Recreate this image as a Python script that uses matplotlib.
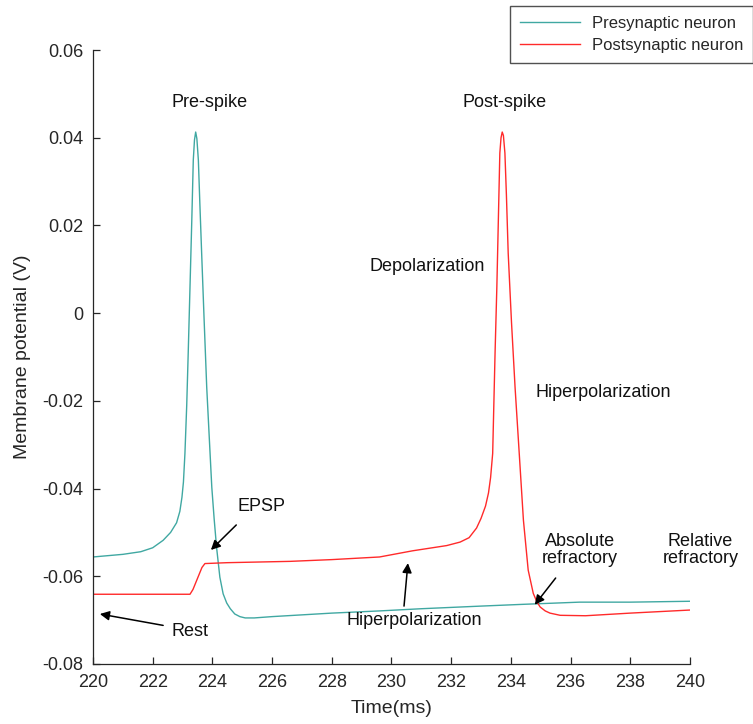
import matplotlib
matplotlib.use("Agg")
import matplotlib.pyplot as plt

plt.rcParams['font.family'] = ['Liberation Sans', 'DejaVu Sans']

# Presynaptic neuron (teal)
pre_t = [220, 221, 221.6, 222.0, 222.35, 222.6, 222.8, 222.91, 222.98, 223.03, 223.08, 223.14,
         223.19, 223.25, 223.31, 223.36, 223.40, 223.44, 223.48, 223.53, 223.58, 223.64,
         223.72, 223.81, 223.90, 223.98, 224.06, 224.14, 224.25, 224.36, 224.48, 224.6,
         224.75, 224.92, 225.1, 225.4, 226, 227, 228, 229.6, 231, 233, 234.4, 236.3, 238, 240]
pre_v = [-0.0556, -0.0550, -0.0544, -0.0535, -0.0518, -0.0500, -0.0478, -0.0452, -0.0420,
         -0.0385, -0.0320, -0.0210, -0.0091, 0.0060, 0.0212, 0.0349, 0.0395, 0.0413, 0.0398,
         0.0349, 0.0250, 0.0137, -0.0010, -0.0169, -0.0290, -0.0397, -0.0470, -0.0534,
         -0.0602, -0.0640, -0.0661, -0.0674, -0.0686, -0.0692, -0.0695, -0.0695, -0.0692,
         -0.0688, -0.0684, -0.0679, -0.0674, -0.0668, -0.0664, -0.0659, -0.0659, -0.0657]

# Postsynaptic neuron (red)
post_t = [220, 223.25, 223.35, 223.5, 223.65, 223.75, 224.5, 226.6, 228, 229.6, 230.7, 231.85,
          232.3, 232.6, 232.85, 233.0, 233.15, 233.25, 233.32, 233.39, 233.47, 233.53, 233.58,
          233.63, 233.67, 233.71, 233.75, 233.8, 233.85, 233.91, 234.02, 234.14, 234.28,
          234.42, 234.58, 234.75, 234.87, 234.98, 235.15, 235.31, 235.65, 236.5, 238, 240]
post_v = [-0.0641, -0.0641, -0.0630, -0.0605, -0.0580, -0.0571, -0.0569, -0.0566, -0.0562,
          -0.0556, -0.0542, -0.0530, -0.0522, -0.0512, -0.0490, -0.0468, -0.0440, -0.0410,
          -0.0375, -0.0320, -0.0091, 0.0060, 0.0212, 0.0365, 0.0400, 0.0413, 0.0405, 0.0365,
          0.0270, 0.0137, -0.0020, -0.0169, -0.0320, -0.0472, -0.0586, -0.0639, -0.0658,
          -0.0670, -0.0679, -0.0684, -0.0689, -0.0690, -0.0684, -0.0677]

xticks = list(range(220, 241, 2))
yticks = [-0.08, -0.06, -0.04, -0.02, 0, 0.02, 0.04, 0.06]
ytick_labels = ['-0.08', '-0.06', '-0.04', '-0.02', '0', '0.02', '0.04', '0.06']

teal = '#40a8a2'
red = '#ff2a2a'
dark = '#262626'

fig = plt.figure(figsize=(7.53, 7.24), dpi=100)
ax = fig.add_axes([0.1235, 0.0829, 0.7928, 0.848])

ax.plot(pre_t, pre_v, color=teal, lw=1.0, label='Presynaptic neuron')
ax.plot(post_t, post_v, color=red, lw=1.0, label='Postsynaptic neuron')

ax.set_xlim(220, 240)
ax.set_ylim(-0.08, 0.06)
ax.set_xticks(xticks)
ax.set_xticklabels([str(x) for x in xticks])
ax.set_yticks(yticks)
ax.set_yticklabels(ytick_labels)
ax.spines['top'].set_visible(False)
ax.spines['right'].set_visible(False)
for s in ['left', 'bottom']:
    ax.spines[s].set_color(dark)
    ax.spines[s].set_linewidth(0.9)
ax.tick_params(direction='in', length=5, width=0.9, colors=dark, labelsize=13, pad=7)
ax.set_xlabel('Time(ms)', fontsize=14, color=dark, labelpad=7)
ax.set_ylabel('Membrane potential (V)', fontsize=14, color=dark, labelpad=8)

fs = 13
tc = '#111111'
ax.text(223.9, 0.048, 'Pre-spike', ha='center', va='center', fontsize=fs, color=tc)
ax.text(233.8, 0.048, 'Post-spike', ha='center', va='center', fontsize=fs, color=tc)
ax.text(231.2, 0.0107, 'Depolarization', ha='center', va='center', fontsize=fs, color=tc)
ax.text(237.1, -0.0182, 'Hiperpolarization', ha='center', va='center', fontsize=fs, color=tc)
ax.text(236.3, -0.0540, 'Absolute\nrefractory', ha='center', va='center', fontsize=fs,
        color=tc, linespacing=1.0)
ax.text(240.35, -0.0540, 'Relative\nrefractory', ha='center', va='center', fontsize=fs,
        color=tc, linespacing=1.0, clip_on=False)

ap = dict(arrowstyle='-|>', color='black', lw=1.1, mutation_scale=14, shrinkA=0, shrinkB=0)
ax.text(225.66, -0.0442, 'EPSP', ha='center', va='center', fontsize=fs, color=tc)
ax.annotate('', xy=(223.95, -0.0540), xytext=(224.8, -0.0483), arrowprops=ap)
ax.text(223.25, -0.0727, 'Rest', ha='center', va='center', fontsize=fs, color=tc)
ax.annotate('', xy=(220.23, -0.0686), xytext=(222.35, -0.0712), arrowprops=ap)
ax.text(230.75, -0.0700, 'Hiperpolarization', ha='center', va='center', fontsize=fs, color=tc)
ax.annotate('', xy=(230.55, -0.0570), xytext=(230.42, -0.0668), arrowprops=ap)
ax.annotate('', xy=(234.8, -0.0665), xytext=(235.5, -0.0604), arrowprops=ap)

leg = fig.legend(loc='upper right', bbox_to_anchor=(1.0, 0.992), fontsize=12,
                 frameon=True, fancybox=False, handlelength=3.6, borderpad=0.6,
                 labelspacing=0.45, handletextpad=0.7, borderaxespad=0)
leg.get_frame().set_edgecolor(dark)
leg.get_frame().set_linewidth(1.0)
for t in leg.get_texts():
    t.set_color(dark)

fig.savefig('out.png', dpi=100)
